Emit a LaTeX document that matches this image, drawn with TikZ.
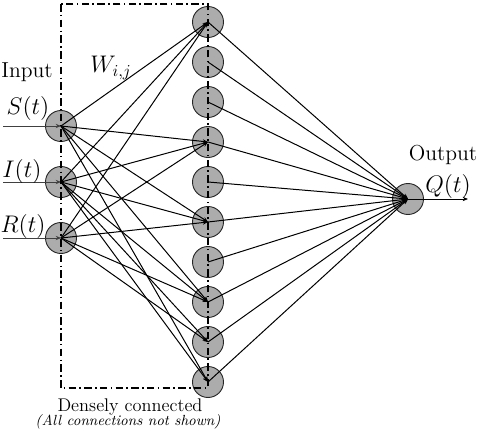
\documentclass[tikz,border=0pt]{standalone}
\usetikzlibrary{arrows.meta}
\definecolor{nfill}{RGB}{172,172,172}
\begin{document}
\begin{tikzpicture}[x=0.6pt,y=-0.6pt,
  neuron/.style={circle, draw=black!85, fill=nfill, line width=0.55pt, minimum size=18.6pt, inner sep=0pt},
  conn/.style={line width=0.6pt, -{Stealth[length=3.2pt,width=2.6pt]}},
  frame/.style={line width=0.8pt, dash pattern=on 4.5pt off 2pt on 0.9pt off 2pt},
  mathlbl/.style={font=\fontsize{14}{16}\selectfont, inner sep=0pt},
  txtlbl/.style={font=\fontsize{13}{15}\selectfont, inner sep=0pt}]
\useasboundingbox (0,0) rectangle (479,430);
% input neurons
\node[neuron] (S) at (61,126) {};
\node[neuron] (I) at (61,182) {};
\node[neuron] (R) at (61,238) {};
% hidden neurons
\foreach \i in {1,...,10} {
  \node[neuron] (h\i) at (208,{22+40*(\i-1)}) {};
}
% output neuron
\node[neuron] (O) at (408,199) {};
% free ends
\coordinate (sin) at (3,126);
\coordinate (iin) at (3,182);
\coordinate (rin) at (3,238);
\coordinate (qout) at (468,199);
% input arrows
\draw[conn, black!75] (sin) -- (S.center);
\draw[conn, black!75] (iin) -- (I.center);
\draw[conn, black!75] (rin) -- (R.center);
% input to hidden
\foreach \h in {1,4,6,8,10} \draw[conn] (S.center) -- (h\h.center);
\foreach \h in {1,4,6,8,9,10} \draw[conn] (I.center) -- (h\h.center);
\foreach \h in {1,4,6,8,9} \draw[conn] (R.center) -- (h\h.center);
% hidden to output
\foreach \i in {1,...,10} \draw[conn] (h\i.center) -- (O.center);
% output arrow
\draw[conn] (O.center) -- (qout);
% frame
\coordinate (f1) at (61,4);
\coordinate (f2) at (208,388);
\draw[frame] (f1) rectangle (f2);
% labels
\node[txtlbl] (lin) at (27,72) {Input};
\node[mathlbl] (ls) at (28,108) {$S(t)$};
\node[mathlbl] (li) at (22,171) {$I(t)$};
\node[mathlbl] (lr) at (23,226) {$R(t)$};
\node[mathlbl] (lw) at (111,68) {$W_{i,j}$};
\node[txtlbl] (lout) at (443,155) {Output};
\node[mathlbl] (lq) at (448,186) {$Q(t)$};
\node[font=\fontsize{11}{12}\selectfont, inner sep=0pt] (ld) at (130,407) {Densely connected};
\node[font=\fontsize{8.8}{10}\selectfont\itshape, inner sep=0pt] (la) at (128,422) {(All connections not shown)};
\end{tikzpicture}
\end{document}
